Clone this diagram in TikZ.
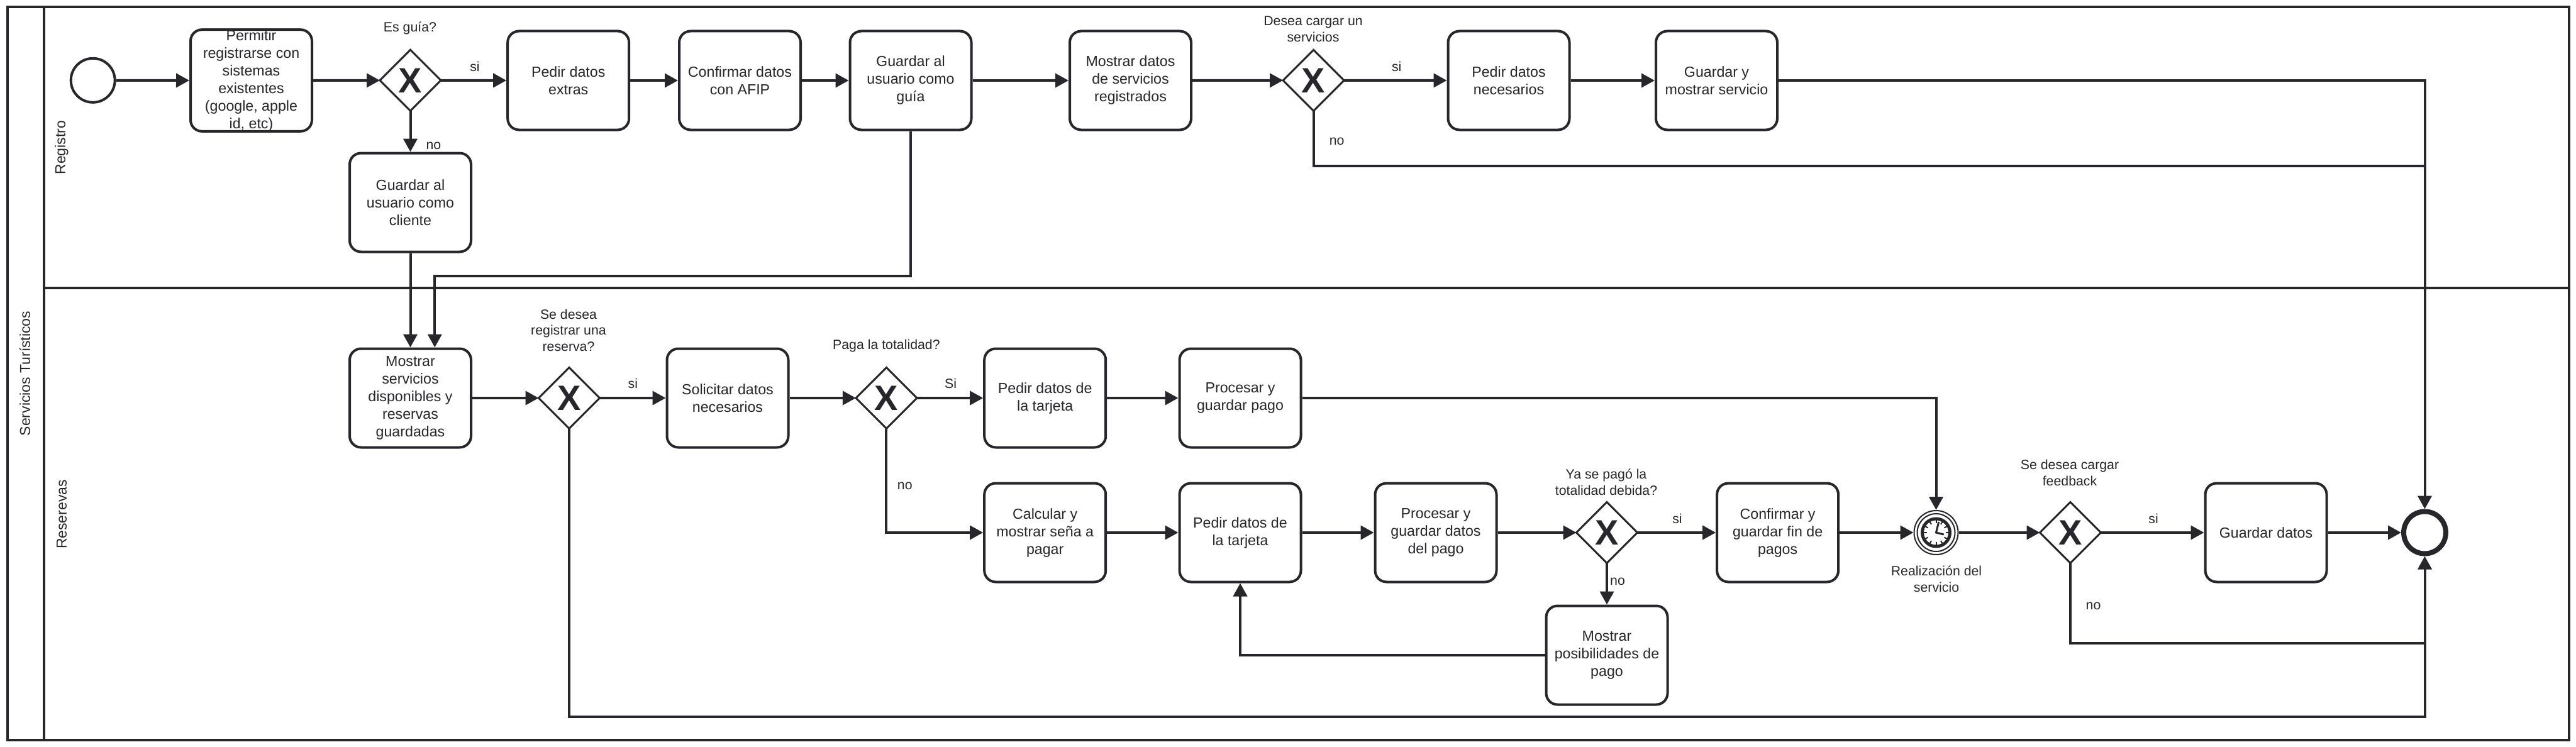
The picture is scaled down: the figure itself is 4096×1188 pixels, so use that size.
\documentclass[tikz,border=0pt]{standalone}
\usepackage{fontspec}
\setmainfont{Liberation Sans}
\usetikzlibrary{arrows.meta,shapes.geometric}
\definecolor{trazo}{HTML}{26262B}
\tikzset{
    tarea/.style={draw=trazo,line width=4pt,rounded corners=18pt,fill=white,text=trazo,
        minimum width=193pt,minimum height=157pt,inner sep=0pt,align=center,
        font=\fontsize{23.2}{28}\selectfont},
    compuerta/.style={draw=trazo,line width=3pt,diamond,aspect=1,fill=white,text=trazo,
        minimum size=97pt,inner sep=0pt,outer sep=0pt,font=\fontsize{56}{56}\selectfont\bfseries},
    etiqueta/.style={text=trazo,inner sep=0pt,align=center,font=\fontsize{21.3}{25.5}\selectfont},
    carril/.style={text=trazo,inner sep=0pt,rotate=90,font=\fontsize{23}{28}\selectfont},
    flujo/.style={draw=trazo,line width=4pt,-{Triangle[length=21pt,width=22pt]}},
    union/.style={draw=trazo,line width=4pt}
}
\begin{document}
\begin{tikzpicture}[x=1pt,y=-1pt]
    \useasboundingbox (0,0) rectangle (4096,1188);
    \draw[trazo,line width=4pt] (11.5,11.5) rectangle (4085,1177);
    \draw[trazo,line width=4pt] (69.5,11.5) -- (69.5,1177);
    \draw[trazo,line width=4pt] (69.5,457.7) -- (4085,457.7);
    \node[carril] (lblProceso) at (39.5,594) {Servicios Turísticos};
    \node[carril] (lblRegistro) at (98,234.6) {Registro};
    \node[carril] (lblReservas) at (98,818) {Reserevas};

    \node[draw=trazo,line width=4pt,circle,minimum size=70pt,inner sep=0pt] (inicio) at (147.7,127.8) {};
    \node[tarea] (permitir) at (399.5,128) {Permitir\\registrarse con\\sistemas\\existentes\\(google, apple\\id, etc)};
    \node[compuerta] (gwGuia) at (652.5,127.8) {X};
    \node[tarea] (pedirExtras) at (903.7,128) {Pedir datos\\extras};
    \node[tarea] (confirmarAfip) at (1176.5,128) {Confirmar datos\\con AFIP};
    \node[tarea] (guardarGuia) at (1448,128) {Guardar al\\usuario como\\guía};
    \node[tarea] (mostrarDatos) at (1797.5,128) {Mostrar datos\\de servicios\\registrados};
    \node[compuerta] (gwCargar) at (2088.6,127.8) {X};
    \node[tarea] (pedirNecesarios) at (2399,128) {Pedir datos\\necesarios};
    \node[tarea] (guardarServicio) at (2729.5,128) {Guardar y\\mostrar servicio};
    \node[tarea] (guardarCliente) at (652.5,322) {Guardar al\\usuario como\\cliente};

    \node[tarea] (mostrarServicios) at (652.5,633) {Mostrar\\servicios\\disponibles y\\reservas\\guardadas};
    \node[compuerta] (gwReserva) at (905,633) {X};
    \node[tarea] (solicitar) at (1157,633) {Solicitar datos\\necesarios};
    \node[compuerta] (gwPaga) at (1409.4,633) {X};
    \node[tarea] (tarjetaUno) at (1661.7,633) {Pedir datos de\\la tarjeta};
    \node[tarea] (procesarPago) at (1972,633) {Procesar y\\guardar pago};
    \node[tarea] (calcular) at (1661.7,847) {Calcular y\\mostrar seña a\\pagar};
    \node[tarea] (tarjetaDos) at (1972,847) {Pedir datos de\\la tarjeta};
    \node[tarea] (procesarDatos) at (2283,847) {Procesar y\\guardar datos\\del pago};
    \node[compuerta] (gwTotal) at (2555,847) {X};
    \node[tarea] (posibilidades) at (2555,1042) {Mostrar\\posibilidades de\\pago};
    \node[tarea] (confirmarFin) at (2826.6,847) {Confirmar y\\guardar fin de\\pagos};
    \node[draw=trazo,line width=2pt,circle,minimum size=70pt,inner sep=0pt] (evento) at (3078.5,847) {};
    \node[compuerta] (gwFeedback) at (3292,847) {X};
    \node[tarea] (guardarDatos) at (3603,847) {Guardar datos};
    \node[draw=trazo,line width=8pt,circle,minimum size=67pt,inner sep=0pt] (fin) at (3855.5,847) {};

    \draw[trazo,line width=2pt] (evento) circle (30pt);
    \draw[trazo,line width=5pt] (evento) circle (22pt);
    \foreach \ang in {0,30,...,330} {
        \draw[trazo,line width=2pt] ([shift={(\ang:15)}]evento.center) -- ([shift={(\ang:21)}]evento.center);
    }
    \draw[trazo,line width=3pt] (3082.7,830) -- (evento.center) -- (3090.7,850);

    \node[etiqueta] (lblGuia) at (652,45) {Es guía?};
    \node[etiqueta] (lblSiGuia) at (755,105.6) {si};
    \node[etiqueta] (lblNoGuia) at (689.4,232) {no};
    \node[etiqueta] (lblCargar) at (2088,46.5) {Desea cargar un\\servicios};
    \node[etiqueta] (lblSiCargar) at (2220.7,105.6) {si};
    \node[etiqueta] (lblNoCargar) at (2125.6,224.6) {no};
    \node[etiqueta] (lblReserva) at (904,525) {Se desea\\registrar una\\reserva?};
    \node[etiqueta] (lblSiReserva) at (1006.4,610) {si};
    \node[etiqueta] (lblPaga) at (1409.4,550) {Paga la totalidad?};
    \node[etiqueta] (lblSiPaga) at (1511.5,610) {Si};
    \node[etiqueta] (lblNoPaga) at (1438.8,772.5) {no};
    \node[etiqueta] (lblTotal) at (2554,767) {Ya se pagó la\\totalidad debida?};
    \node[etiqueta] (lblSiTotal) at (2667,824.6) {si};
    \node[etiqueta] (lblNoTotal) at (2572,924.5) {no};
    \node[etiqueta] (lblEvento) at (3079,921) {Realización del\\servicio};
    \node[etiqueta] (lblFeedback) at (3291,752) {Se desea cargar\\feedback};
    \node[etiqueta] (lblSiFeedback) at (3424,824.6) {si};
    \node[etiqueta] (lblNoFeedback) at (3328.5,963.5) {no};

    \coordinate (codoGuia) at (691.3,438.6);
    \coordinate (juntaCargar) at (3855.5,264);
    \coordinate (juntaFeedback) at (3855.5,1022.5);
    \coordinate (codoReserva) at (3855.5,1139.6);

    \draw[flujo] (inicio) -- (permitir);
    \draw[flujo] (permitir) -- (gwGuia);
    \draw[flujo] (gwGuia) -- (pedirExtras);
    \draw[flujo] (pedirExtras) -- (confirmarAfip);
    \draw[flujo] (confirmarAfip) -- (guardarGuia);
    \draw[flujo] (guardarGuia) -- (mostrarDatos);
    \draw[flujo] (mostrarDatos) -- (gwCargar);
    \draw[flujo] (gwCargar) -- (pedirNecesarios);
    \draw[flujo] (pedirNecesarios) -- (guardarServicio);
    \draw[flujo] (guardarServicio) -| (fin.north);
    \draw[union] (gwCargar.south) |- (juntaCargar);
    \draw[flujo] (gwGuia) -- (guardarCliente);
    \draw[flujo] (guardarCliente) -- (mostrarServicios);
    \draw[flujo] (guardarGuia.south) |- (codoGuia) -- (codoGuia |- mostrarServicios.north);

    \draw[flujo] (mostrarServicios) -- (gwReserva);
    \draw[flujo] (gwReserva) -- (solicitar);
    \draw[flujo] (solicitar) -- (gwPaga);
    \draw[flujo] (gwPaga) -- (tarjetaUno);
    \draw[flujo] (tarjetaUno) -- (procesarPago);
    \draw[flujo] (procesarPago) -| (evento.north);
    \draw[flujo] (gwPaga.south) |- (calcular.west);
    \draw[flujo] (calcular) -- (tarjetaDos);
    \draw[flujo] (tarjetaDos) -- (procesarDatos);
    \draw[flujo] (procesarDatos) -- (gwTotal);
    \draw[flujo] (gwTotal) -- (confirmarFin);
    \draw[flujo] (gwTotal) -- (posibilidades);
    \draw[flujo] (posibilidades.west) -| (tarjetaDos.south);
    \draw[flujo] (confirmarFin) -- (evento);
    \draw[flujo] (evento) -- (gwFeedback);
    \draw[flujo] (gwFeedback) -- (guardarDatos);
    \draw[flujo] (guardarDatos) -- (fin);
    \draw[union] (gwFeedback.south) |- (juntaFeedback);
    \draw[flujo] (gwReserva.south) |- (codoReserva) -- (fin.south);
\end{tikzpicture}
\end{document}
